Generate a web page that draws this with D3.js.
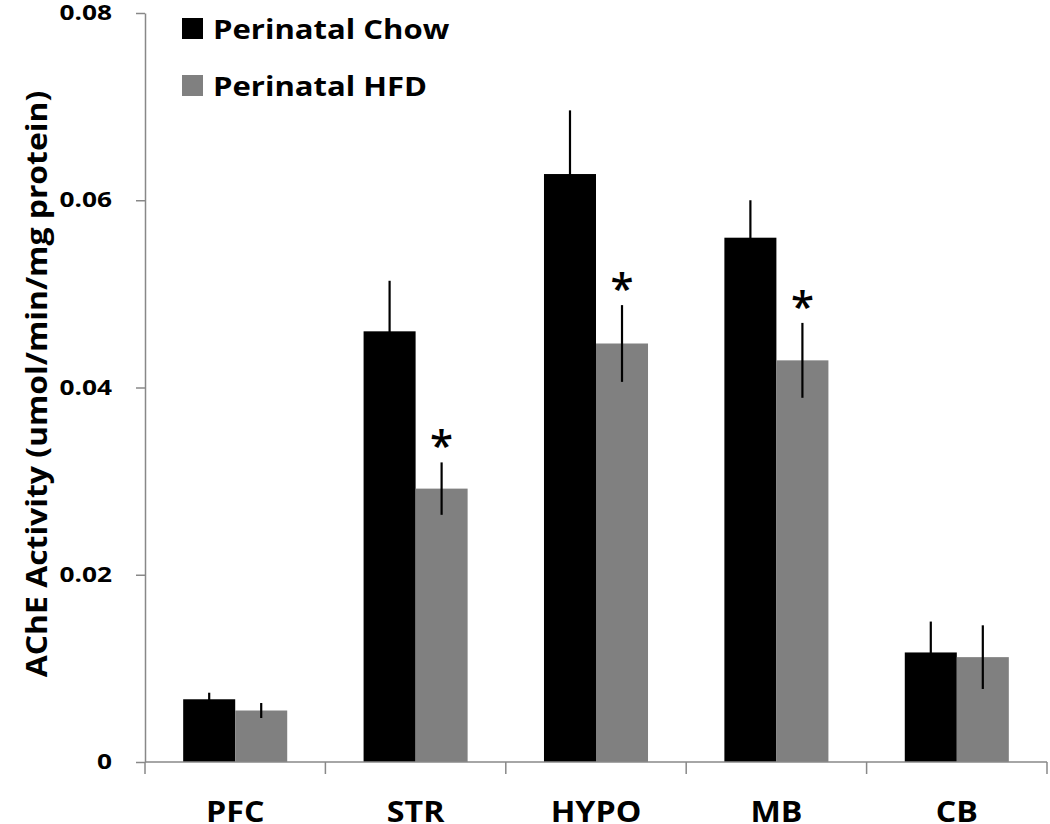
<!DOCTYPE html>
<html><head><meta charset="utf-8">
<script src="https://cdn.jsdelivr.net/npm/d3@7"></script>
<style>body{margin:0;background:#fff;} svg{display:block;}</style>
</head><body>
<svg id="c" width="1050" height="824"></svg>
<script>
const categories = ["PFC", "STR", "HYPO", "MB", "CB"];
const seriesNames = ["Perinatal Chow", "Perinatal HFD"];
const chowValues = [0.0067, 0.0460, 0.0628, 0.0560, 0.0117];
const chowErrors = [0.0007, 0.0054, 0.0068, 0.0040, 0.0033];
const hfdValues  = [0.0055, 0.0292, 0.0447, 0.0429, 0.0112];
const hfdErrors  = [0.0008, 0.0028, 0.0041, 0.0040, 0.0034];
const significant = [false, true, true, true, false];
const yTicks = [0, 0.02, 0.04, 0.06, 0.08];
const yTitle = "AChE Activity (umol/min/mg protein)";

(function () {
const colors = ["#000000", "#808080"];
const FONT = "'Open Sans', sans-serif";
const SX = 1.25;
const svg = d3.select("#c");
const mLeft = 145, mRight = 1047, mTop = 13, mBottom = 762;

const y = d3.scaleLinear().domain([0, 0.08]).range([mBottom, mTop]);
const x0 = d3.scaleBand().domain(categories).range([mLeft, mRight]).padding(0);
const x1 = d3.scaleBand().domain(seriesNames).range([0, x0.bandwidth()]).paddingInner(0).paddingOuter(0.734);

const data = categories.map((c, i) => ({
  cat: c, sig: significant[i],
  vals: [
    {s: seriesNames[0], v: chowValues[i], e: chowErrors[i], col: colors[0]},
    {s: seriesNames[1], v: hfdValues[i], e: hfdErrors[i], col: colors[1]}
  ]
}));

function stretchedText(parent, x, yy, txt, size, anchor, sx, rotate) {
  return parent.append("text")
    .attr("transform", `translate(${x},${yy})` + (rotate ? " rotate(-90)" : "") + ` scale(${sx},1)`)
    .attr("text-anchor", anchor || "start")
    .attr("font-family", FONT).attr("font-weight", "bold")
    .attr("font-size", size).attr("fill", "#000").text(txt);
}

const g = svg.append("g");
const grp = g.selectAll("g.cat").data(data).join("g")
  .attr("transform", d => `translate(${x0(d.cat)},0)`);
grp.selectAll("rect").data(d => d.vals).join("rect")
  .attr("x", d => x1(d.s)).attr("width", x1.bandwidth())
  .attr("y", d => y(d.v)).attr("height", d => y(0) - y(d.v))
  .attr("fill", d => d.col);
grp.selectAll("line.err").data(d => d.vals).join("line").attr("class", "err")
  .attr("x1", d => x1(d.s) + x1.bandwidth() / 2).attr("x2", d => x1(d.s) + x1.bandwidth() / 2)
  .attr("y1", d => y(d.v - d.e)).attr("y2", d => y(d.v + d.e))
  .attr("stroke", "#000").attr("stroke-width", 2.2);
const starSize = 42;
grp.filter(d => d.sig).append("text")
  .attr("x", x1(seriesNames[1]) + x1.bandwidth() / 2)
  .attr("y", d => y(d.vals[1].v + d.vals[1].e) - 27 + 0.59 * starSize)
  .attr("text-anchor", "middle")
  .attr("font-family", FONT).attr("font-weight", "600").attr("font-size", starSize).attr("fill", "#000")
  .text("*");

const yAxis = d3.axisLeft(y).tickValues(yTicks).tickSize(9).tickSizeOuter(0)
  .tickFormat(d => d === 0 ? "0" : d3.format(".2f")(d));
const ya = svg.append("g").attr("transform", `translate(${mLeft},0)`).call(yAxis);
ya.select(".domain").attr("stroke", "#888").attr("stroke-width", 1.5);
ya.selectAll(".tick line").attr("stroke", "#888").attr("stroke-width", 1.5);
ya.selectAll(".tick text").attr("x", -33 / SX).attr("transform", `scale(${SX},1)`)
  .attr("font-family", FONT).attr("font-weight", "bold").attr("font-size", 21).attr("fill", "#000");

const xa = svg.append("g");
xa.append("line").attr("x1", mLeft).attr("x2", mRight).attr("y1", mBottom).attr("y2", mBottom)
  .attr("stroke", "#888").attr("stroke-width", 1.5);
const bounds = categories.map(c => x0(c)).concat([x0(categories[categories.length - 1]) + x0.bandwidth()]);
xa.selectAll("line.t").data(bounds).join("line").attr("class", "t")
  .attr("x1", d => d).attr("x2", d => d).attr("y1", mBottom).attr("y2", mBottom + 12)
  .attr("stroke", "#888").attr("stroke-width", 1.5);
categories.forEach(c => stretchedText(xa, x0(c) + x0.bandwidth() / 2, 822, c, 28, "middle", 1.15));

stretchedText(svg, 47, 384, yTitle, 29, "middle", 1.1, true);

const lg = svg.append("g");
seriesNames.forEach((s, i) => {
  const ly = 18 + i * 57;
  lg.append("rect").attr("x", 182).attr("y", ly).attr("width", 21).attr("height", 21).attr("fill", colors[i]);
  stretchedText(lg, 213, ly + 21, s, 27, "start", 1.15);
});
})();
</script>
</body></html>
